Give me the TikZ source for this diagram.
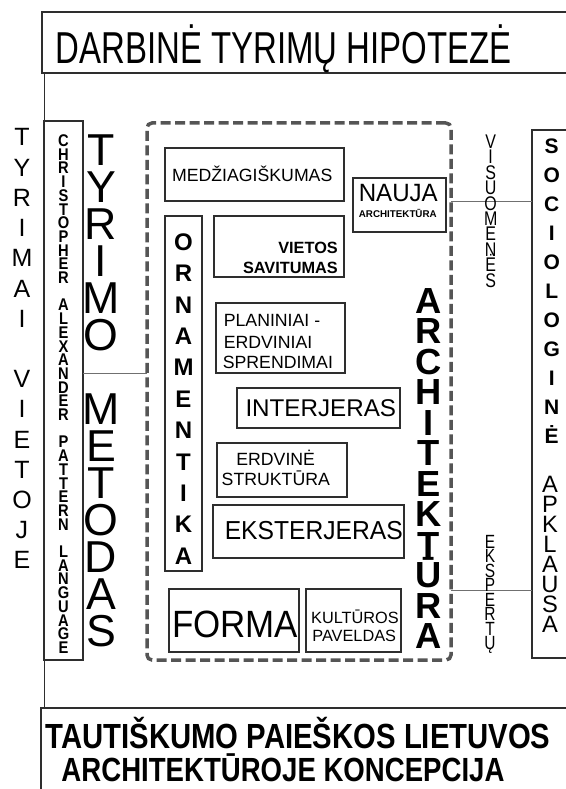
\documentclass[tikz,border=0pt]{standalone}
\usepackage{fontspec}
\setmainfont{Liberation Sans}
\usepackage{graphicx}
\newcommand\myfs[1]{\fontsize{#1}{#1}\selectfont}
\newcommand\myfsb[2]{\fontsize{#1}{#2}\selectfont}
\newcommand\vstk[1]{\vtop{\lineskiplimit=-100pt\lineskip=0pt\halign{\hfil##\hfil\cr#1\crcr}}}
\definecolor{boxc}{HTML}{2E2E2E}
\definecolor{dashc}{HTML}{555555}
\definecolor{connc}{HTML}{707070}
\tikzset{
  box/.style={draw=boxc, line width=1.3pt, inner sep=0pt, outer sep=0pt},
  dashbox/.style={draw=dashc, line width=3.5pt, rounded corners=5pt, dash pattern=on 10pt off 4.5pt, inner sep=0pt, outer sep=0pt},
  conn/.style={draw=connc, line width=1pt},
  vline/.style={draw=boxc, line width=1pt},
  txt/.style={inner sep=0pt, outer sep=0pt, anchor=base},
  txtl/.style={inner sep=0pt, outer sep=0pt, anchor=base west},
  txtr/.style={inner sep=0pt, outer sep=0pt, anchor=base east},
}
\begin{document}
\begin{tikzpicture}[x=1pt,y=-1pt]
\path[fill=white] (0,0) rectangle (565,789);
\useasboundingbox (0,0) rectangle (565,789);

% main boxes
\node[box, minimum width=538pt, minimum height=61pt] (top) at (311,42.5) {};
\node[box, minimum width=539pt, minimum height=92pt] (bottom) at (310.5,754) {};
\node[box, minimum width=39pt, minimum height=539pt] (chris) at (63.5,390.5) {};
\node[dashbox, minimum width=304pt, minimum height=537pt] (dash) at (299,391.5) {};
\node[box, minimum width=48pt, minimum height=528pt] (socio) at (556,394) {};

% inner boxes
\node[box, minimum width=179pt, minimum height=53pt] (med) at (254.5,174.5) {};
\node[box, minimum width=93pt, minimum height=54pt] (nauja) at (399.5,205) {};
\node[box, minimum width=37pt, minimum height=355pt] (orn) at (183.5,393.5) {};
\node[box, minimum width=130pt, minimum height=61pt] (viet) at (279,246.5) {};
\node[box, minimum width=129pt, minimum height=70pt] (plan) at (280.5,338) {};
\node[box, minimum width=163pt, minimum height=40pt] (inter) at (318.5,408) {};
\node[box, minimum width=130pt, minimum height=54pt] (erdv) at (282,470) {};
\node[box, minimum width=191pt, minimum height=53pt] (ekst) at (308.5,531.5) {};
\node[box, minimum width=130pt, minimum height=63pt] (forma) at (234,620.5) {};
\node[box, minimum width=95pt, minimum height=63pt] (kult) at (353.5,620.5) {};

% connectors
\draw[vline] (top.south -| chris.west) -- (chris.north west);
\draw[vline] (chris.south west) -- (bottom.north -| chris.west);
\draw[conn] (chris.east |- 0,373) -- (dash.west |- 0,373);
\draw[conn] (dash.east |- 0,201) -- (socio.west |- 0,201);
\draw[conn] (dash.east |- 0,590) -- (socio.west |- 0,590);

% titles
\node[txt] (title) at (283.5,64) {\resizebox{456pt}{\height}{\myfs{44.7}DARBINĖ TYRIMŲ HIPOTEZĖ}};
\node[txt] (bt1) at (298,748.3) {\resizebox{505pt}{\height}{\myfs{34.9}\bfseries TAUTIŠKUMO PAIEŠKOS LIETUVOS}};
\node[txt] (bt2) at (283,781.7) {\resizebox{443pt}{\height}{\myfs{33.5}\bfseries ARCHITEKTŪROJE KONCEPCIJA}};

% vertical stacked texts
\node[txt] (tyrviet) at (22,146) {\myfsb{25}{30.2}\vstk{T\cr Y\cr R\cr I\cr M\cr A\cr I\cr{}\cr V\cr I\cr E\cr T\cr O\cr J\cr E}};
\node[txt] (cal) at (63.5,146.5) {\scalebox{1}[1.15]{\myfsb{14.7}{11.913}\bfseries\vstk{C\cr H\cr R\cr I\cr S\cr T\cr O\cr P\cr H\cr E\cr R\cr{}\cr A\cr L\cr E\cr X\cr A\cr N\cr D\cr E\cr R\cr{}\cr P\cr A\cr T\cr T\cr E\cr R\cr N\cr{}\cr L\cr A\cr N\cr G\cr U\cr A\cr G\cr E}}};
\node[txt] (tymet) at (101,165) {\myfsb{44.7}{37}\vstk{T\cr Y\cr R\cr I\cr M\cr O\cr{}\cr M\cr E\cr T\cr O\cr D\cr A\cr S}};
\node[txt] (ornam) at (183.5,250.3) {\myfsb{24}{31.4}\bfseries\vstk{O\cr R\cr N\cr A\cr M\cr E\cr N\cr T\cr I\cr K\cr A}};
\node[txt] (archv) at (429,313) {\myfsb{36.3}{30.5}\bfseries\vstk{A\cr R\cr C\cr H\cr I\cr T\cr E\cr K\cr T\cr Ū\cr R\cr A}};
\node[txt] (visuo) at (490.7,148.5) {\scalebox{0.85}[1.05]{\myfsb{18.8}{14.667}\vstk{V\cr I\cr S\cr U\cr O\cr M\cr E\cr N\cr Ė\cr S}}};
\node[txt] (eksp) at (490,548) {\scalebox{0.85}[1.05]{\myfsb{18.2}{13.81}\vstk{E\cr K\cr S\cr P\cr E\cr R\cr T\cr Ų}}};
\node[txt] (sociol) at (551.7,153.3) {\myfsb{21}{29}\bfseries\vstk{S\cr O\cr C\cr I\cr O\cr L\cr O\cr G\cr I\cr N\cr Ė}};
\node[txt] (apkl) at (550,492) {\myfsb{23.7}{20.1}\vstk{A\cr P\cr K\cr L\cr A\cr U\cr S\cr A}};

% inner texts
\node[txt] (tmed) at (252.2,181) {\myfs{17.7}MEDŽIAGIŠKUMAS};
\node[txt] (tnauja) at (398.3,201.7) {\resizebox{79pt}{\height}{\myfs{25}NAUJA}};
\node[txt] (tarch) at (397.8,217) {\myfs{9.8}\bfseries ARCHITEKTŪRA};
\node[txtr] (tviet1) at (337.8,253.3) {\myfs{16.3}\bfseries VIETOS};
\node[txtr] (tviet2) at (337.8,273.3) {\myfs{16.3}\bfseries SAVITUMAS};
\node[txtl] (tplan1) at (223.8,326.7) {\myfs{17.7}PLANINIAI -};
\node[txtl] (tplan2) at (223.8,348) {\myfs{17.7}ERDVINIAI};
\node[txtl] (tplan3) at (222.8,368.3) {\myfs{17.7}SPRENDIMAI};
\node[txt] (tinter) at (320.8,416.7) {\myfs{24.2}INTERJERAS};
\node[txt] (terdv1) at (275.7,465) {\myfs{17.7}ERDVINĖ};
\node[txt] (terdv2) at (275.8,485) {\myfs{17.7}STRUKTŪRA};
\node[txt] (tekst) at (313.8,539.3) {\resizebox{178pt}{\height}{\myfs{26}EKSTERJERAS}};
\node[txt] (tforma) at (235,637.3) {\resizebox{126pt}{\height}{\myfs{38}FORMA}};
\node[txt] (tkult1) at (355,623.3) {\myfs{16.3}KULTŪROS};
\node[txt] (tkult2) at (354.2,641.7) {\myfs{16.3}PAVELDAS};
\end{tikzpicture}
\end{document}
